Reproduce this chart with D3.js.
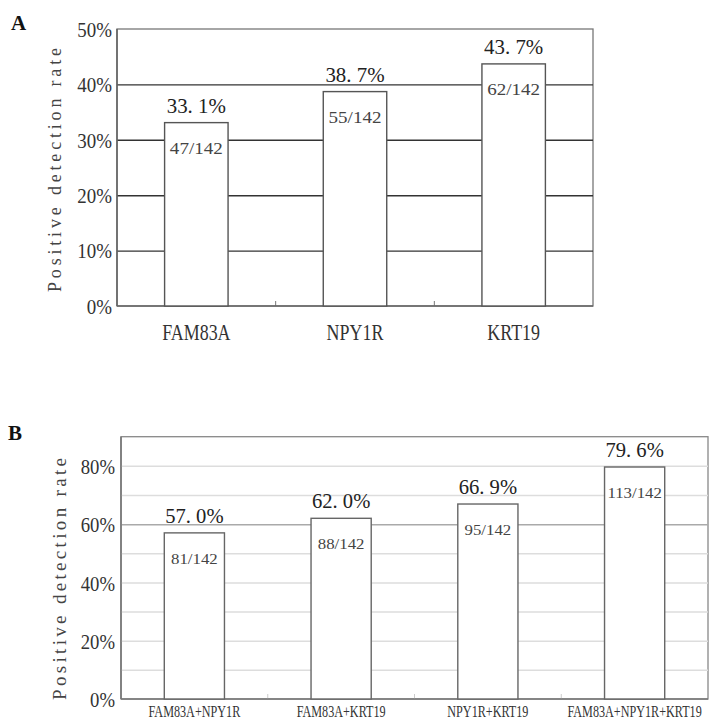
<!DOCTYPE html>
<html>
<head>
<meta charset="utf-8">
<script src="https://cdn.jsdelivr.net/npm/d3@7"></script>
<style>
  html, body { margin: 0; padding: 0; background: #fff; }
  svg { display: block; }
  text { font-family: "Liberation Serif", "DejaVu Serif", serif; }
</style>
</head>
<body>
<svg id="chart" width="709" height="723"></svg>
<script>
// ---------- Data ----------
const categoriesA = ["FAM83A", "NPY1R", "KRT19"];
const ratesA = [33.1, 38.7, 43.7];
const positivesA = [47, 55, 62];

const categoriesB = ["FAM83A+NPY1R", "FAM83A+KRT19", "NPY1R+KRT19", "FAM83A+NPY1R+KRT19"];
const ratesB = [57.0, 62.0, 66.9, 79.6];
const positivesB = [81, 88, 95, 113];

const totalCases = 142;
const ticksA = [0, 10, 20, 30, 40, 50];
const ticksB = [0, 20, 40, 60, 80];
const gridB = [10, 20, 30, 40, 50, 60, 70, 80];
const yTitle = "Positive detection rate";

// ---------- Helpers ----------
const svg = d3.select("#chart");
function squeeze(sel, factor) {
  sel.each(function () {
    const w = this.getComputedTextLength();
    this.setAttribute("textLength", w * factor);
    this.setAttribute("lengthAdjust", "spacingAndGlyphs");
  });
}
const fmtRate = v => v.toFixed(1).replace(".", ". ") + "%";

function drawPanel(cfg) {
  const g = svg.append("g");
  const x = d3.scaleBand().domain(cfg.cats).range([cfg.left, cfg.right])
    .paddingInner(cfg.padIn).paddingOuter(cfg.padIn / 2);
  const y = d3.scaleLinear().domain([0, cfg.max]).range([cfg.bottom, cfg.top]);

  // frame
  g.append("rect").attr("x", cfg.left).attr("y", cfg.top)
    .attr("width", cfg.right - cfg.left).attr("height", cfg.bottom - cfg.top)
    .attr("fill", "none").attr("stroke", cfg.frameColor).attr("stroke-width", 1.3);

  // gridlines
  const grid = g.append("g").attr("transform", `translate(${cfg.left},0)`)
    .call(d3.axisLeft(y).tickValues(cfg.grid).tickSize(-(cfg.right - cfg.left)).tickFormat(""));
  grid.select(".domain").remove();
  grid.selectAll("line")
    .attr("stroke", d => (cfg.gridStrong && d === cfg.gridStrong) ? cfg.gridStrongColor : cfg.gridColor)
    .attr("stroke-width", cfg.gridWidth);

  // minor ticks at category boundaries
  const bounds = cfg.cats.slice(1).map(c => x(c) - x.step() * x.paddingInner() / 2);
  g.selectAll(".mtick").data(bounds).join("line")
    .attr("x1", d => d).attr("x2", d => d)
    .attr("y1", cfg.bottom).attr("y2", cfg.bottom - 5)
    .attr("stroke", cfg.minorColor).attr("stroke-width", 1);

  // axis lines
  g.append("line").attr("x1", cfg.left).attr("x2", cfg.right)
    .attr("y1", cfg.bottom).attr("y2", cfg.bottom)
    .attr("stroke", cfg.axisColor).attr("stroke-width", 1.6);
  g.append("line").attr("x1", cfg.left).attr("x2", cfg.left)
    .attr("y1", cfg.top).attr("y2", cfg.bottom)
    .attr("stroke", cfg.axisColor).attr("stroke-width", 1.6);

  // bars
  const data = cfg.cats.map((c, i) => ({ c, v: cfg.rates[i], p: cfg.pos[i] }));
  g.selectAll(".bar").data(data).join("rect")
    .attr("x", d => x(d.c)).attr("width", x.bandwidth())
    .attr("y", d => y(d.v)).attr("height", d => cfg.bottom - y(d.v))
    .attr("fill", "#fff").attr("stroke", cfg.barStroke).attr("stroke-width", 1.4);

  // value labels
  const vl = g.selectAll(".vl").data(data).join("text")
    .attr("x", d => x(d.c) + x.bandwidth() / 2).attr("y", d => y(d.v) - 10)
    .attr("text-anchor", "middle").attr("font-size", cfg.valueSize).attr("fill", "#222")
    .text(d => fmtRate(d.v));
  squeeze(vl, cfg.valueSqueeze);

  // inner count labels
  const il = g.selectAll(".il").data(data).join("text")
    .attr("x", d => x(d.c) + x.bandwidth() / 2).attr("y", d => y(d.v) + 31)
    .attr("text-anchor", "middle").attr("font-size", cfg.innerSize).attr("fill", "#444")
    .text(d => `${d.p}/${totalCases}`);
  squeeze(il, cfg.innerSqueeze);

  // y tick labels
  const ya = g.append("g").attr("transform", `translate(${cfg.left},0)`)
    .call(d3.axisLeft(y).tickValues(cfg.ticks).tickSize(0).tickPadding(cfg.tickPad).tickFormat(d => d + "%"));
  ya.select(".domain").remove();
  ya.selectAll("text").attr("font-size", cfg.tickSize).attr("fill", "#333").attr("dy", "0.35em");
  squeeze(ya.selectAll("text"), cfg.tickSqueeze);

  // x category labels (horizontally condensed via scale transform)
  const xa = g.append("g").attr("transform", `translate(0,${cfg.bottom})`)
    .call(d3.axisBottom(x).tickSize(0).tickPadding(0));
  xa.select(".domain").remove();
  xa.selectAll("text").attr("font-size", cfg.catSize).attr("fill", "#333")
    .attr("dy", 0).attr("y", cfg.catBaseline - cfg.bottom)
    .attr("transform", `scale(${cfg.catSqueeze},1)`);

  // y title
  g.append("text")
    .attr("transform", `translate(${cfg.titleX},${cfg.titleY}) rotate(-90)`)
    .attr("text-anchor", "middle").attr("font-size", cfg.titleSize).attr("fill", "#444")
    .attr("textLength", cfg.titleLen).attr("lengthAdjust", "spacing")
    .text(yTitle);

  // panel letter
  g.append("text").attr("x", cfg.letterX).attr("y", cfg.letterY)
    .attr("font-size", 21).attr("font-weight", "bold").attr("fill", "#111")
    .text(cfg.letter);
}

drawPanel({
  letter: "A", letterX: 11, letterY: 30,
  cats: categoriesA, rates: ratesA, pos: positivesA,
  left: 117, right: 593, top: 29, bottom: 306, max: 50, padIn: 0.6,
  grid: [10, 20, 30, 40], ticks: ticksA,
  frameColor: "#777", gridColor: "#333", gridWidth: 1.4, axisColor: "#666",
  minorColor: "#777", barStroke: "#555",
  valueSize: 22, valueSqueeze: 0.95, innerSize: 17, innerSqueeze: 1.12,
  tickSize: 21, tickSqueeze: 0.9, tickPad: 5,
  catSize: 23, catSqueeze: 0.78, catBaseline: 340,
  titleX: 61, titleY: 170, titleSize: 18, titleLen: 244
});

drawPanel({
  letter: "B", letterX: 8, letterY: 440,
  cats: categoriesB, rates: ratesB, pos: positivesB,
  left: 121, right: 708, top: 436.7, bottom: 699, max: 90, padIn: 0.59,
  grid: gridB, ticks: ticksB, gridStrong: 60, gridStrongColor: "#aaa",
  frameColor: "#888", gridColor: "#ddd", gridWidth: 1.5, axisColor: "#777",
  minorColor: "#ccc", barStroke: "#666",
  valueSize: 21, valueSqueeze: 0.98, innerSize: 15, innerSqueeze: 1.12,
  tickSize: 22, tickSqueeze: 0.85, tickPad: 6,
  catSize: 16, catSqueeze: 0.76, catBaseline: 717,
  titleX: 66, titleY: 579, titleSize: 19, titleLen: 242
});
</script>
</body>
</html>
